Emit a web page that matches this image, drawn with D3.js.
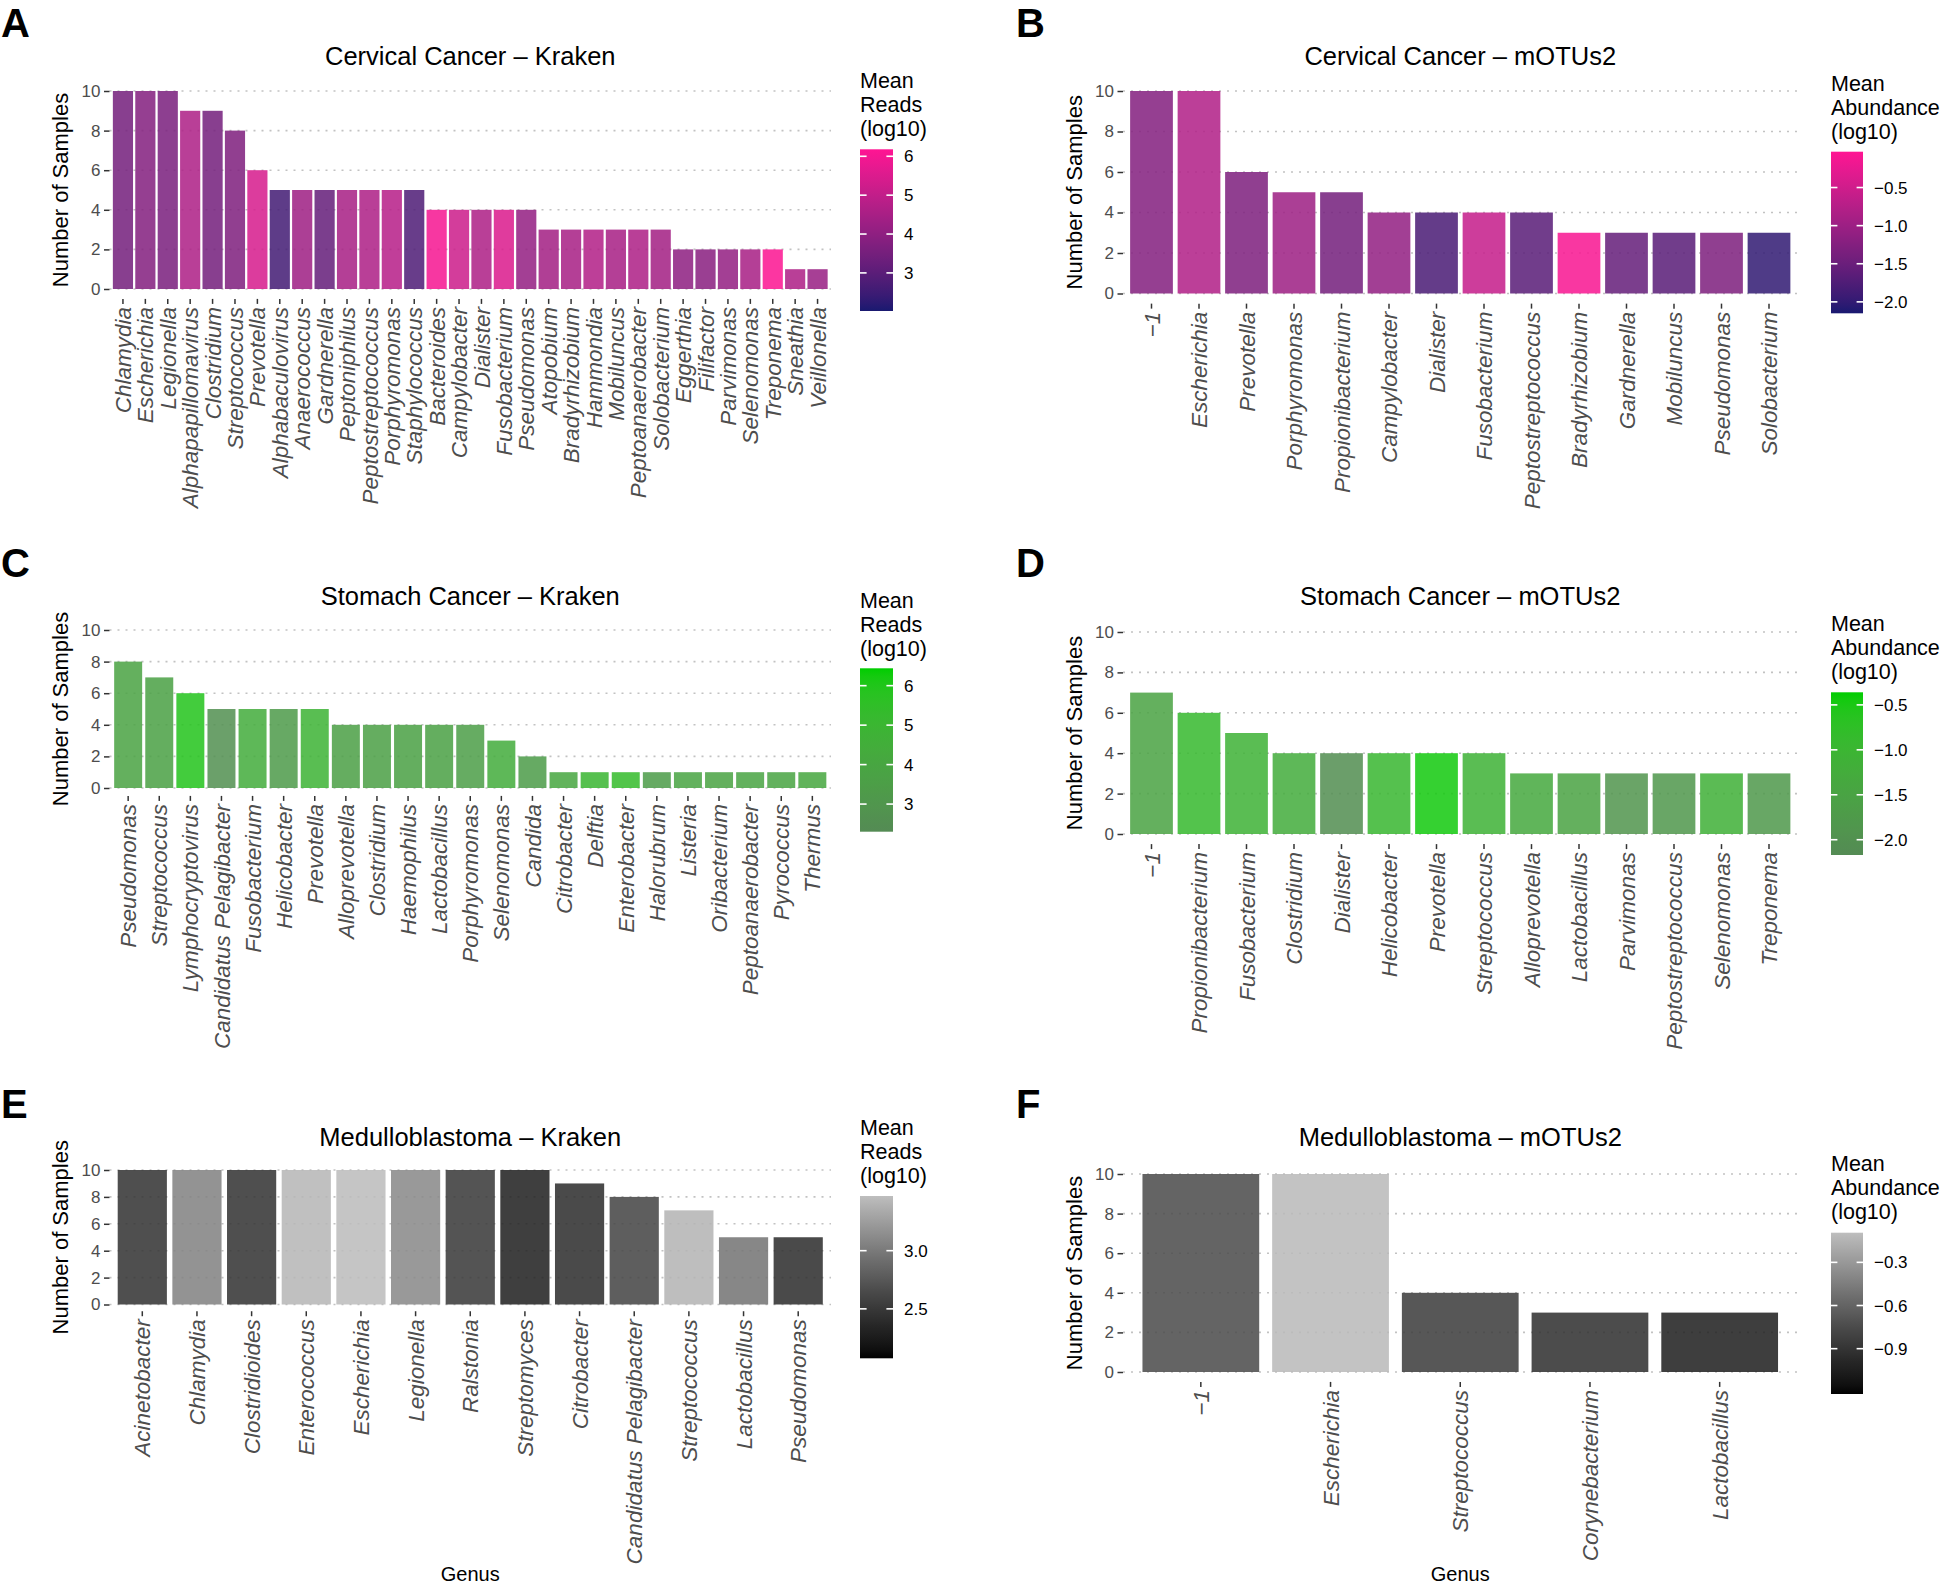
<!DOCTYPE html>
<html><head><meta charset="utf-8">
<script src="https://cdn.jsdelivr.net/npm/d3@7"></script>
<style>
body{margin:0;background:#fff}
svg{display:block}
text{font-family:"Liberation Sans",Arial,Helvetica,sans-serif}
</style>
</head><body>
<svg id="chart" width="1943" height="1587"></svg>
<script>
// ---------------- DATA ----------------
const yTicks = [0, 2, 4, 6, 8, 10];
const readsLegendTitle = ["Mean", "Reads", "(log10)"];
const abundanceLegendTitle = ["Mean", "Abundance", "(log10)"];

const cervicalKrakenGenus = ["Chlamydia","Escherichia","Legionella","Alphapapillomavirus","Clostridium","Streptococcus","Prevotella","Alphabaculovirus","Anaerococcus","Gardnerella","Peptoniphilus","Peptostreptococcus","Porphyromonas","Staphylococcus","Bacteroides","Campylobacter","Dialister","Fusobacterium","Pseudomonas","Atopobium","Bradyrhizobium","Hammondia","Mobiluncus","Peptoanaerobacter","Solobacterium","Eggerthia","Filifactor","Parvimonas","Selenomonas","Treponema","Sneathia","Veillonella"];
const cervicalKrakenSamples = [10,10,10,9,9,8,6,5,5,5,5,5,5,5,4,4,4,4,4,3,3,3,3,3,3,2,2,2,2,2,1,1];
const cervicalKrakenMeanReads = [3.5,3.8,3.6,4.6,3.5,3.7,5.4,2.6,4.3,3.2,4.5,4.6,4.8,2.8,6.0,5.2,4.6,5.5,4.1,4.4,4.5,4.7,4.5,4.6,4.4,4.0,3.9,4.1,4.5,6.1,4.6,4.2];
const cervicalKrakenLegendTicks = [3,4,5,6];

const cervicalMotusGenus = ["−1","Escherichia","Prevotella","Porphyromonas","Propionibacterium","Campylobacter","Dialister","Fusobacterium","Peptostreptococcus","Bradyrhizobium","Gardnerella","Mobiluncus","Pseudomonas","Solobacterium"];
const cervicalMotusSamples = [10,10,6,5,5,4,4,4,4,3,3,3,3,3];
const cervicalMotusMeanAbundance = [-1.25,-0.8,-1.3,-1.0,-1.4,-1.1,-1.8,-0.6,-1.65,-0.1,-1.55,-1.65,-1.3,-2.0];
const cervicalMotusLegendTicks = [-2.0,-1.5,-1.0,-0.5];

const stomachKrakenGenus = ["Pseudomonas","Streptococcus","Lymphocryptovirus","Candidatus Pelagibacter","Fusobacterium","Helicobacter","Prevotella","Alloprevotella","Clostridium","Haemophilus","Lactobacillus","Porphyromonas","Selenomonas","Candida","Citrobacter","Delftia","Enterobacter","Halorubrum","Listeria","Oribacterium","Peptoanaerobacter","Pyrococcus","Thermus"];
const stomachKrakenSamples = [8,7,6,5,5,5,5,4,4,4,4,4,3,2,1,1,1,1,1,1,1,1,1];
const stomachKrakenMeanReads = [3.8,3.7,5.9,2.6,4.4,3.3,4.8,3.6,3.6,3.7,3.7,3.5,4.4,3.4,4.0,5.0,5.3,3.4,3.9,3.8,3.9,3.9,4.1];
const stomachKrakenLegendTicks = [3,4,5,6];

const stomachMotusGenus = ["−1","Propionibacterium","Fusobacterium","Clostridium","Dialister","Helicobacter","Prevotella","Streptococcus","Alloprevotella","Lactobacillus","Parvimonas","Peptostreptococcus","Selenomonas","Treponema"];
const stomachMotusSamples = [7,6,5,4,4,4,4,4,3,3,3,3,3,3];
const stomachMotusMeanAbundance = [-1.5,-0.9,-1.1,-1.25,-2.1,-0.95,-0.45,-1.1,-1.35,-1.5,-1.9,-1.85,-1.15,-1.8];
const stomachMotusLegendTicks = [-2.0,-1.5,-1.0,-0.5];

const medulloKrakenGenus = ["Acinetobacter","Chlamydia","Clostridioides","Enterococcus","Escherichia","Legionella","Ralstonia","Streptomyces","Citrobacter","Candidatus Pelagibacter","Streptococcus","Lactobacillus","Pseudomonas"];
const medulloKrakenSamples = [10,10,10,10,10,10,10,10,9,8,7,5,5];
const medulloKrakenMeanReads = [2.45,3.05,2.45,3.42,3.45,3.1,2.5,2.3,2.4,2.6,3.4,2.95,2.4];
const medulloKrakenLegendTicks = [2.5,3.0];

const medulloMotusGenus = ["−1","Escherichia","Streptococcus","Corynebacterium","Lactobacillus"];
const medulloMotusSamples = [10,10,4,3,3];
const medulloMotusMeanAbundance = [-0.75,-0.12,-0.85,-0.93,-1.05];
const medulloMotusLegendTicks = [-0.9,-0.6,-0.3];

const pinkPalette = ["#191970","#ff1493"];
const greenPalette = ["#548b54","#00cd00"];
const greyPalette = ["#000000","#bebebe"];

// ---------------- LAYOUT ----------------
const FONT = '"Liberation Sans", Arial, Helvetica, sans-serif';
const LEFT = {x0:109.5, x1:831, letterX:1, yTitleX:60, legX:860, cbX:860, cbW:33};
const RIGHT = {x0:1123, x1:1797.5, letterX:1016, yTitleX:1074, legX:1831, cbX:1831, cbW:32};

const panels = [
  {letter:"A", title:"Cervical Cancer – Kraken", genus:cervicalKrakenGenus, samples:cervicalKrakenSamples, mean:cervicalKrakenMeanReads,
   legendTitle:readsLegendTitle, legendTicks:cervicalKrakenLegendTicks, fmt:d3.format("d"), palette:pinkPalette, fillDomain:[2.02,6.18],
   side:LEFT, yTop:91, yBot:289, letterY:37, titleY:65, legY:[88,112,136], cbTop:149.3, cbBot:311, xTitle:false},
  {letter:"B", title:"Cervical Cancer – mOTUs2", genus:cervicalMotusGenus, samples:cervicalMotusSamples, mean:cervicalMotusMeanAbundance,
   legendTitle:abundanceLegendTitle, legendTicks:cervicalMotusLegendTicks, fmt:d3.format(".1f"), palette:pinkPalette, fillDomain:[-2.15,-0.03],
   side:RIGHT, yTop:91, yBot:293.5, letterY:37, titleY:65, legY:[91,115,139], cbTop:151.7, cbBot:313.3, xTitle:false},
  {letter:"C", title:"Stomach Cancer – Kraken", genus:stomachKrakenGenus, samples:stomachKrakenSamples, mean:stomachKrakenMeanReads,
   legendTitle:readsLegendTitle, legendTicks:stomachKrakenLegendTicks, fmt:d3.format("d"), palette:greenPalette, fillDomain:[2.30,6.44],
   side:LEFT, yTop:630, yBot:788, letterY:577, titleY:605, legY:[608,632,656], cbTop:668.3, cbBot:831.7, xTitle:false},
  {letter:"D", title:"Stomach Cancer – mOTUs2", genus:stomachMotusGenus, samples:stomachMotusSamples, mean:stomachMotusMeanAbundance,
   legendTitle:abundanceLegendTitle, legendTicks:stomachMotusLegendTicks, fmt:d3.format(".1f"), palette:greenPalette, fillDomain:[-2.17,-0.36],
   side:RIGHT, yTop:632, yBot:834, letterY:577, titleY:605, legY:[631,655,679], cbTop:692.3, cbBot:855, xTitle:false},
  {letter:"E", title:"Medulloblastoma – Kraken", genus:medulloKrakenGenus, samples:medulloKrakenSamples, mean:medulloKrakenMeanReads,
   legendTitle:readsLegendTitle, legendTicks:medulloKrakenLegendTicks, fmt:d3.format(".1f"), palette:greyPalette, fillDomain:[2.075,3.47],
   side:LEFT, yTop:1170, yBot:1304.5, letterY:1118, titleY:1146, legY:[1135,1159,1183], cbTop:1196, cbBot:1358.3, xTitle:true},
  {letter:"F", title:"Medulloblastoma – mOTUs2", genus:medulloMotusGenus, samples:medulloMotusSamples, mean:medulloMotusMeanAbundance,
   legendTitle:abundanceLegendTitle, legendTicks:medulloMotusLegendTicks, fmt:d3.format(".1f"), palette:greyPalette, fillDomain:[-1.215,-0.094],
   side:RIGHT, yTop:1174, yBot:1372, letterY:1118, titleY:1146, legY:[1171,1195,1219], cbTop:1232.7, cbBot:1394, xTitle:true}
];

const svg = d3.select("#chart");
const defs = svg.append("defs");

panels.forEach((p, pi) => {
  const S = p.side;
  const g = svg.append("g");
  const x = d3.scaleBand().domain(p.genus).range([S.x0, S.x1]).paddingInner(0.1).paddingOuter(0.15);
  const y = d3.scaleLinear().domain([0, 10]).range([p.yBot, p.yTop]);
  const panelBottom = y(-0.5);
  const fill = d3.scaleLinear().domain(p.fillDomain).range(p.palette).interpolate(d3.interpolateLab).clamp(true);

  // gridlines
  g.append("g").selectAll("line").data(yTicks).join("line")
    .attr("x1", S.x0).attr("x2", S.x1)
    .attr("y1", d => y(d)).attr("y2", d => y(d))
    .attr("stroke", "#c2c2c2").attr("stroke-width", 1.6).attr("stroke-dasharray", "2,6");

  // bars
  g.append("g").selectAll("rect").data(p.genus).join("rect")
    .attr("x", d => x(d)).attr("width", x.bandwidth())
    .attr("y", (d, i) => y(p.samples[i]))
    .attr("height", (d, i) => y(0) - y(p.samples[i]))
    .attr("fill", (d, i) => fill(p.mean[i]))
    .attr("fill-opacity", 0.86);

  // y axis
  const ya = g.append("g").attr("transform", `translate(${S.x0},0)`)
    .call(d3.axisLeft(y).tickValues(yTicks).tickSize(5.5).tickPadding(3.5).tickFormat(d3.format("d")));
  ya.select(".domain").remove();
  ya.selectAll(".tick line").attr("stroke", "#333").attr("stroke-width", 1.5);
  ya.selectAll(".tick text").attr("fill", "#4d4d4d").style("font-size", "17px").style("font-family", FONT);

  // x axis
  const xa = g.append("g").attr("transform", `translate(0,${panelBottom})`)
    .call(d3.axisBottom(x).tickSize(5).tickPadding(0));
  xa.select(".domain").remove();
  xa.selectAll(".tick line").attr("stroke", "#333").attr("stroke-width", 1.5);
  xa.selectAll(".tick text")
    .attr("y", 0).attr("x", -8).attr("dy", "0.36em")
    .attr("transform", "rotate(-90)")
    .style("text-anchor", "end")
    .style("font-style", "italic")
    .style("font-size", "22.5px")
    .style("font-family", FONT)
    .attr("fill", "#4d4d4d");

  // panel letter
  svg.append("text").attr("x", S.letterX).attr("y", p.letterY)
    .style("font-size", "40px").style("font-weight", "bold").attr("fill", "#000").text(p.letter);

  // title
  svg.append("text").attr("x", (S.x0 + S.x1) / 2).attr("y", p.titleY)
    .attr("text-anchor", "middle").style("font-size", "25.5px").attr("fill", "#000").text(p.title);

  // y axis title
  const cy = (p.yTop + p.yBot) / 2;
  svg.append("text").attr("transform", `translate(${S.yTitleX},${cy}) rotate(-90)`)
    .attr("text-anchor", "middle").attr("dy", "0.35em")
    .style("font-size", "22px").attr("fill", "#000").text("Number of Samples");

  // x axis title
  if (p.xTitle) {
    svg.append("text").attr("x", (S.x0 + S.x1) / 2).attr("y", 1581)
      .attr("text-anchor", "middle").style("font-size", "20px").attr("fill", "#000").text("Genus");
  }

  // legend title
  svg.append("g").selectAll("text").data(p.legendTitle).join("text")
    .attr("x", S.legX).attr("y", (d, i) => p.legY[i])
    .style("font-size", "21.5px").attr("fill", "#000").text(d => d);

  // colorbar
  const gid = "grad" + pi;
  const grad = defs.append("linearGradient").attr("id", gid)
    .attr("x1", 0).attr("y1", 1).attr("x2", 0).attr("y2", 0);
  d3.range(0, 1.0001, 0.05).forEach(t => {
    grad.append("stop").attr("offset", t)
      .attr("stop-color", fill(p.fillDomain[0] + t * (p.fillDomain[1] - p.fillDomain[0])));
  });
  svg.append("rect").attr("x", S.cbX).attr("y", p.cbTop)
    .attr("width", S.cbW).attr("height", p.cbBot - p.cbTop)
    .attr("fill", `url(#${gid})`);
  const cb = d3.scaleLinear().domain(p.fillDomain).range([p.cbBot, p.cbTop]);
  const tickLen = S.cbW / 5;
  const lg = svg.append("g");
  lg.selectAll("line.l").data(p.legendTicks).join("line").attr("class", "l")
    .attr("x1", S.cbX).attr("x2", S.cbX + tickLen)
    .attr("y1", d => cb(d)).attr("y2", d => cb(d))
    .attr("stroke", "#fff").attr("stroke-width", 1.6);
  lg.selectAll("line.r").data(p.legendTicks).join("line").attr("class", "r")
    .attr("x1", S.cbX + S.cbW - tickLen).attr("x2", S.cbX + S.cbW)
    .attr("y1", d => cb(d)).attr("y2", d => cb(d))
    .attr("stroke", "#fff").attr("stroke-width", 1.6);
  lg.selectAll("text").data(p.legendTicks).join("text")
    .attr("x", S.cbX + S.cbW + 11).attr("y", d => cb(d)).attr("dy", "0.36em")
    .style("font-size", "17px").attr("fill", "#000").text(d => p.fmt(d));
});
</script>
</body></html>
